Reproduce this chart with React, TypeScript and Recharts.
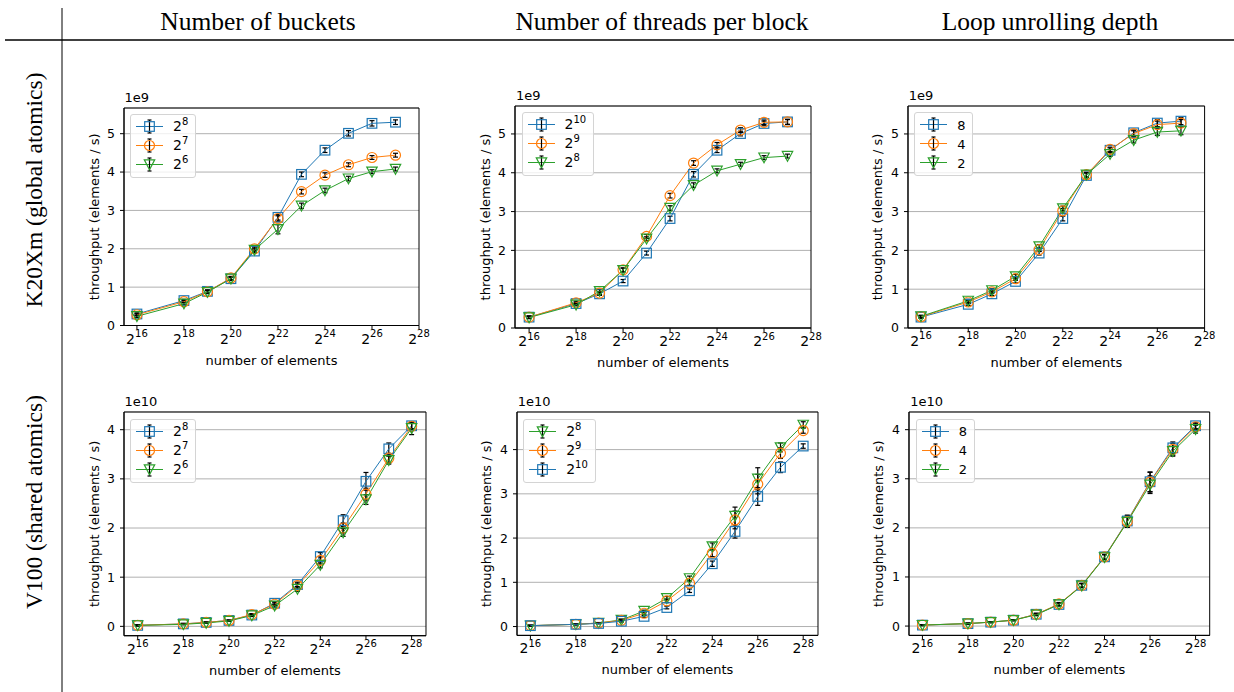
import React from 'react';
import { LineChart, Line, XAxis, YAxis, CartesianGrid, ErrorBar, ReferenceArea, Legend } from 'recharts';

const BLUE = '#1f77b4';
const ORANGE = '#ff7f0e';
const GREEN = '#2ca02c';
const SANS = '"DejaVu Sans", Verdana, sans-serif';
const SERIF = '"Liberation Serif", "Times New Roman", serif';

// x values are log2(number of elements)
const EXP_K20 = [16, 18, 19, 20, 21, 22, 23, 24, 25, 26, 27];
const EXP_V100 = [16, 18, 19, 20, 21, 22, 23, 24, 25, 26, 27, 28];
const X_TICKS = [16, 18, 20, 22, 24, 26, 28];
const Y_TICKS_K20 = [0, 1, 2, 3, 4, 5];
const Y_TICKS_V100 = [0, 1, 2, 3, 4];

const COLUMN_TITLES = ['Number of buckets', 'Number of threads per block', 'Loop unrolling depth'];
const ROW_TITLES = ['K20Xm (global atomics)', 'V100 (shared atomics)'];

// K20Xm, throughput in 1e9 elements / s
const K20_BUCKETS_256 = [0.30, 0.65, 0.89, 1.22, 1.94, 2.82, 3.94, 4.57, 5.01, 5.27, 5.30];
const K20_BUCKETS_256_ERR = [0.03, 0.03, 0.04, 0.04, 0.05, 0.07, 0.06, 0.06, 0.07, 0.07, 0.06];
const K20_BUCKETS_128 = [0.28, 0.62, 0.88, 1.24, 2.00, 2.79, 3.49, 3.92, 4.19, 4.38, 4.44];
const K20_BUCKETS_128_ERR = [0.03, 0.03, 0.04, 0.04, 0.05, 0.07, 0.06, 0.06, 0.05, 0.05, 0.05];
const K20_BUCKETS_64 = [0.24, 0.57, 0.87, 1.22, 1.97, 2.51, 3.12, 3.52, 3.83, 4.01, 4.08];
const K20_BUCKETS_64_ERR = [0.03, 0.03, 0.04, 0.04, 0.05, 0.12, 0.07, 0.06, 0.06, 0.05, 0.05];

const K20_THREADS_1024 = [0.28, 0.63, 0.88, 1.21, 1.93, 2.82, 3.96, 4.58, 5.01, 5.27, 5.31];
const K20_THREADS_1024_ERR = [0.03, 0.03, 0.04, 0.04, 0.05, 0.06, 0.07, 0.06, 0.06, 0.06, 0.06];
const K20_THREADS_512 = [0.28, 0.65, 0.90, 1.50, 2.36, 3.41, 4.25, 4.72, 5.10, 5.30, 5.31];
const K20_THREADS_512_ERR = [0.03, 0.04, 0.04, 0.05, 0.05, 0.06, 0.06, 0.06, 0.06, 0.06, 0.07];
const K20_THREADS_256 = [0.27, 0.60, 0.95, 1.49, 2.30, 3.09, 3.68, 4.05, 4.22, 4.39, 4.43];
const K20_THREADS_256_ERR = [0.03, 0.03, 0.04, 0.05, 0.05, 0.06, 0.06, 0.05, 0.05, 0.05, 0.05];

const K20_UNROLL_8 = [0.28, 0.61, 0.88, 1.20, 1.93, 2.82, 3.93, 4.58, 5.03, 5.28, 5.33];
const K20_UNROLL_8_ERR = [0.03, 0.03, 0.04, 0.04, 0.05, 0.06, 0.06, 0.06, 0.07, 0.09, 0.09];
const K20_UNROLL_4 = [0.29, 0.67, 0.93, 1.27, 2.02, 3.02, 3.95, 4.60, 5.01, 5.24, 5.28];
const K20_UNROLL_4_ERR = [0.03, 0.04, 0.04, 0.04, 0.05, 0.06, 0.06, 0.06, 0.07, 0.09, 0.09];
const K20_UNROLL_2 = [0.30, 0.70, 0.97, 1.33, 2.10, 3.08, 3.95, 4.48, 4.84, 5.05, 5.08];
const K20_UNROLL_2_ERR = [0.03, 0.04, 0.04, 0.05, 0.05, 0.06, 0.06, 0.06, 0.07, 0.09, 0.10];

// V100, throughput in 1e10 elements / s
const V100_BUCKETS_256 = [0.02, 0.05, 0.08, 0.12, 0.23, 0.47, 0.85, 1.42, 2.15, 2.95, 3.61, 4.08];
const V100_BUCKETS_256_ERR = [0.01, 0.01, 0.01, 0.01, 0.02, 0.03, 0.05, 0.08, 0.12, 0.18, 0.12, 0.06];
const V100_BUCKETS_128 = [0.02, 0.05, 0.08, 0.12, 0.24, 0.45, 0.83, 1.34, 2.00, 2.69, 3.42, 4.07];
const V100_BUCKETS_128_ERR = [0.01, 0.01, 0.01, 0.01, 0.02, 0.03, 0.05, 0.07, 0.10, 0.12, 0.10, 0.06];
const V100_BUCKETS_64 = [0.02, 0.04, 0.07, 0.11, 0.22, 0.42, 0.76, 1.25, 1.91, 2.58, 3.38, 4.03];
const V100_BUCKETS_64_ERR = [0.01, 0.01, 0.01, 0.01, 0.02, 0.03, 0.05, 0.06, 0.08, 0.10, 0.08, 0.13];

const V100_THREADS_256 = [0.02, 0.05, 0.08, 0.15, 0.35, 0.64, 1.09, 1.81, 2.50, 3.34, 4.05, 4.56];
const V100_THREADS_256_ERR = [0.01, 0.01, 0.01, 0.02, 0.02, 0.04, 0.05, 0.08, 0.20, 0.25, 0.10, 0.07];
const V100_THREADS_512 = [0.02, 0.05, 0.08, 0.14, 0.30, 0.58, 0.98, 1.66, 2.41, 3.22, 3.92, 4.43];
const V100_THREADS_512_ERR = [0.01, 0.01, 0.01, 0.02, 0.02, 0.04, 0.05, 0.08, 0.20, 0.22, 0.12, 0.06];
const V100_THREADS_1024 = [0.02, 0.05, 0.07, 0.12, 0.23, 0.43, 0.81, 1.42, 2.15, 2.94, 3.60, 4.08];
const V100_THREADS_1024_ERR = [0.01, 0.01, 0.01, 0.02, 0.02, 0.03, 0.04, 0.06, 0.15, 0.20, 0.12, 0.05];

const V100_UNROLL_8 = [0.02, 0.05, 0.08, 0.12, 0.24, 0.44, 0.83, 1.41, 2.14, 2.94, 3.63, 4.08];
const V100_UNROLL_8_ERR = [0.01, 0.01, 0.01, 0.01, 0.02, 0.03, 0.04, 0.05, 0.12, 0.20, 0.12, 0.06];
const V100_UNROLL_4 = [0.02, 0.05, 0.08, 0.12, 0.24, 0.45, 0.83, 1.41, 2.13, 2.93, 3.60, 4.06];
const V100_UNROLL_4_ERR = [0.01, 0.01, 0.01, 0.01, 0.02, 0.03, 0.04, 0.05, 0.12, 0.20, 0.12, 0.06];
const V100_UNROLL_2 = [0.02, 0.05, 0.08, 0.12, 0.23, 0.44, 0.82, 1.40, 2.12, 2.88, 3.56, 4.01];
const V100_UNROLL_2_ERR = [0.01, 0.01, 0.01, 0.01, 0.02, 0.03, 0.04, 0.05, 0.10, 0.18, 0.10, 0.08];

type Series = { label: string; color: string; shape: string; values: number[]; errors: number[] };

const blue = (label: string, values: number[], errors: number[]): Series => ({ label, color: BLUE, shape: 'square', values, errors });
const orange = (label: string, values: number[], errors: number[]): Series => ({ label, color: ORANGE, shape: 'circle', values, errors });
const green = (label: string, values: number[], errors: number[]): Series => ({ label, color: GREEN, shape: 'triangle', values, errors });

// box = pixel position of the axes frame on the page
const PANELS = [
  {
    box: { L: 123.5, T: 107.5, R: 418.5, B: 325 },
    xs: EXP_K20, xDomain: [15.45, 28], yDomain: [0, 5.67], yTicks: Y_TICKS_K20, offset: '1e9',
    series: [blue('2^8', K20_BUCKETS_256, K20_BUCKETS_256_ERR), orange('2^7', K20_BUCKETS_128, K20_BUCKETS_128_ERR), green('2^6', K20_BUCKETS_64, K20_BUCKETS_64_ERR)],
  },
  {
    box: { L: 515, T: 105.7, R: 811, B: 327.7 },
    xs: EXP_K20, xDomain: [15.4, 28], yDomain: [0, 5.72], yTicks: Y_TICKS_K20, offset: '1e9',
    series: [blue('2^10', K20_THREADS_1024, K20_THREADS_1024_ERR), orange('2^9', K20_THREADS_512, K20_THREADS_512_ERR), green('2^8', K20_THREADS_256, K20_THREADS_256_ERR)],
  },
  {
    box: { L: 907.7, T: 105.7, R: 1204.3, B: 327.7 },
    xs: EXP_K20, xDomain: [15.45, 28], yDomain: [0, 5.72], yTicks: Y_TICKS_K20, offset: '1e9',
    series: [blue('8', K20_UNROLL_8, K20_UNROLL_8_ERR), orange('4', K20_UNROLL_4, K20_UNROLL_4_ERR), green('2', K20_UNROLL_2, K20_UNROLL_2_ERR)],
  },
  {
    box: { L: 123.5, T: 412.3, R: 425.5, B: 636 },
    xs: EXP_V100, xDomain: [15.4, 28.63], yDomain: [-0.19, 4.36], yTicks: Y_TICKS_V100, offset: '1e10',
    series: [blue('2^8', V100_BUCKETS_256, V100_BUCKETS_256_ERR), orange('2^7', V100_BUCKETS_128, V100_BUCKETS_128_ERR), green('2^6', V100_BUCKETS_64, V100_BUCKETS_64_ERR)],
  },
  {
    box: { L: 516.7, T: 412.3, R: 817.7, B: 635.7 },
    xs: EXP_V100, xDomain: [15.41, 28.65], yDomain: [-0.2, 4.85], yTicks: Y_TICKS_V100, offset: '1e10',
    series: [green('2^8', V100_THREADS_256, V100_THREADS_256_ERR), orange('2^9', V100_THREADS_512, V100_THREADS_512_ERR), blue('2^10', V100_THREADS_1024, V100_THREADS_1024_ERR)],
  },
  {
    box: { L: 909.3, T: 412.3, R: 1210, B: 635.7 },
    xs: EXP_V100, xDomain: [15.41, 28.62], yDomain: [-0.19, 4.36], yTicks: Y_TICKS_V100, offset: '1e10',
    series: [blue('8', V100_UNROLL_8, V100_UNROLL_8_ERR), orange('4', V100_UNROLL_4, V100_UNROLL_4_ERR), green('2', V100_UNROLL_2, V100_UNROLL_2_ERR)],
  },
];

const YW = 60;
const MT = 22;
const MR = 14;
const XH = 50;

function Marker({ shape, color, cx, cy }: { shape: string; color: string; cx: number; cy: number }) {
  if (shape === 'square') {
    return <rect x={cx - 4.8} y={cy - 4.8} width={9.6} height={9.6} fill="none" stroke={color} strokeWidth={1.2} />;
  }
  if (shape === 'circle') {
    return <circle cx={cx} cy={cy} r={5} fill="none" stroke={color} strokeWidth={1.2} />;
  }
  return (
    <polygon
      points={`${cx - 5.2},${cy - 4.6} ${cx + 5.2},${cy - 4.6} ${cx},${cy + 5.2}`}
      fill="none"
      stroke={color}
      strokeWidth={1.2}
    />
  );
}

function PowerTick(props: any) {
  const { x, y, payload } = props;
  return (
    <text x={x} y={y + 12} textAnchor="middle" fontFamily={SANS} fill="#000">
      <tspan fontSize={14}>2</tspan>
      <tspan dy={-6.5} fontSize={10}>{payload.value}</tspan>
    </text>
  );
}

const xTitle = (props: any) => {
  const vb = props.viewBox;
  if (!vb) return null;
  return (
    <text x={vb.x + vb.width / 2} y={vb.y + 34.5} textAnchor="middle" dominantBaseline="central" fontSize={13} fontFamily={SANS} fill="#000">
      number of elements
    </text>
  );
};

const yTitle = (props: any) => {
  const vb = props.viewBox;
  if (!vb) return null;
  const x = vb.x + vb.width - 30;
  const y = vb.y + vb.height / 2;
  return (
    <text x={x} y={y} transform={`rotate(-90, ${x}, ${y})`} textAnchor="middle" dominantBaseline="central" fontSize={13} fontFamily={SANS} fill="#000">
      throughput (elements / s)
    </text>
  );
};

function SeriesLabel({ label }: { label: string }) {
  const [base, exp] = label.split('^');
  if (!exp) return <span style={{ fontSize: 13 }}>{base}</span>;
  return (
    <span style={{ fontSize: 14 }}>
      {base}
      <span style={{ fontSize: 10, position: 'relative', top: -6 }}>{exp}</span>
    </span>
  );
}

function LegendBox({ series }: { series: Series[] }) {
  return (
    <div
      style={{
        display: 'inline-block',
        background: 'rgba(255,255,255,0.8)',
        border: '1px solid #d4d4d4',
        borderRadius: 3,
        padding: '2px 7px 3px 4px',
        fontFamily: SANS,
        color: '#000',
        lineHeight: '19px',
      }}
    >
      {series.map((s) => (
        <div key={s.label} style={{ display: 'flex', alignItems: 'center', height: 19 }}>
          <svg width={29} height={19} style={{ display: 'block' }}>
            <line x1={1} x2={28} y1={9.5} y2={9.5} stroke={s.color} strokeWidth={1} />
            <line x1={14.5} x2={14.5} y1={3} y2={16} stroke="#000" strokeWidth={1.2} />
            <line x1={12.5} x2={16.5} y1={3} y2={3} stroke="#000" strokeWidth={1.2} />
            <line x1={12.5} x2={16.5} y1={16} y2={16} stroke="#000" strokeWidth={1.2} />
            <Marker shape={s.shape} color={s.color} cx={14.5} cy={9.5} />
          </svg>
          <span style={{ marginLeft: 9 }}>
            <SeriesLabel label={s.label} />
          </span>
        </div>
      ))}
    </div>
  );
}

function Panel({ cfg }: { cfg: (typeof PANELS)[number] }) {
  const { L, T, R, B } = cfg.box;
  const width = R - L + YW + MR;
  const height = B - T + MT + XH;
  const data = cfg.xs.map((x, i) => {
    const row: Record<string, number> = { x };
    cfg.series.forEach((s, k) => {
      row['s' + k] = s.values[i];
      row['e' + k] = s.errors[i];
    });
    return row;
  });

  return (
    <div style={{ position: 'absolute', left: L - YW, top: T - MT, width, height }}>
      <LineChart width={width} height={height} data={data} margin={{ top: MT, right: MR, bottom: 0, left: 0 }}>
        <CartesianGrid vertical={false} stroke="#b0b0b0" strokeWidth={1} />
        <XAxis
          dataKey="x"
          type="number"
          domain={cfg.xDomain}
          allowDataOverflow
          ticks={X_TICKS}
          interval={0}
          tick={<PowerTick />}
          tickSize={4}
          height={XH}
          stroke="#000"
          label={xTitle}
        />
        <YAxis
          type="number"
          domain={cfg.yDomain}
          allowDataOverflow
          ticks={cfg.yTicks}
          interval={0}
          width={YW}
          tickSize={4}
          tickMargin={5}
          tick={{ fontSize: 12.5, fill: '#000', fontFamily: SANS }}
          stroke="#000"
          label={yTitle}
        />
        {cfg.series.map((s, k) => (
          <Line
            key={s.label}
            dataKey={'s' + k}
            stroke={s.color}
            strokeWidth={1}
            activeDot={false}
            isAnimationActive={false}
            dot={(p: any) => <Marker key={`m-${k}-${p.index}`} shape={s.shape} color={s.color} cx={p.cx} cy={p.cy} />}
          >
            <ErrorBar dataKey={'e' + k} width={2.5} stroke="#000" strokeWidth={1.2} direction="y" />
          </Line>
        ))}
        <ReferenceArea
          x1={cfg.xDomain[0]}
          x2={cfg.xDomain[1]}
          y1={cfg.yDomain[0]}
          y2={cfg.yDomain[1]}
          fill="none"
          fillOpacity={0}
          stroke="#000"
          strokeWidth={1}
          ifOverflow="visible"
        />
        <Legend
          layout="horizontal"
          verticalAlign="middle"
          align="center"
          wrapperStyle={{ left: YW + 6.5, top: MT + 6.5, width: 'auto', height: 'auto' }}
          content={() => <LegendBox series={cfg.series} />}
        />
      </LineChart>
      <div style={{ position: 'absolute', left: YW + 1, top: MT - 17, fontFamily: SANS, fontSize: 13, lineHeight: '13px', color: '#000' }}>
        {cfg.offset}
      </div>
    </div>
  );
}

export default function App() {
  return (
    <div style={{ position: 'absolute', left: 0, top: 0, width: 1234, height: 692, background: '#fff' }}>
      <svg width={1234} height={692} style={{ position: 'absolute', left: 0, top: 0 }}>
        <line x1={62} x2={62} y1={8} y2={692} stroke="#000" strokeWidth={1} />
        <line x1={5} x2={1234} y1={40} y2={40} stroke="#000" strokeWidth={1.3} />
        {COLUMN_TITLES.map((t, i) => (
          <text key={t} x={[258, 662, 1050][i]} y={29.5} textAnchor="middle" fontFamily={SERIF} fontSize={25.5} fill="#000">
            {t}
          </text>
        ))}
        {ROW_TITLES.map((t, i) => {
          const x = 42;
          const y = [190, 502][i];
          return (
            <text key={t} x={x} y={y} transform={`rotate(-90, ${x}, ${y})`} textAnchor="middle" fontFamily={SERIF} fontSize={23.5} fill="#000">
              {t}
            </text>
          );
        })}
      </svg>
      {PANELS.map((cfg, i) => (
        <Panel key={i} cfg={cfg} />
      ))}
    </div>
  );
}
